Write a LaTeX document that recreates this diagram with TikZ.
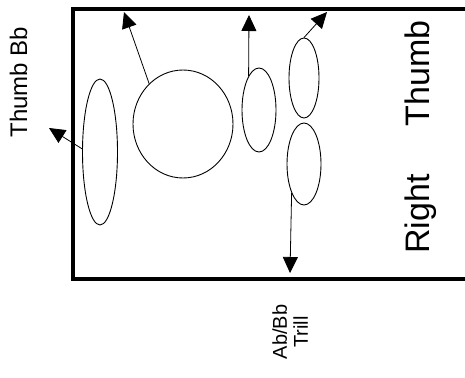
\documentclass[tikz,border=0pt]{standalone}
\usepackage{fontspec}
\setmainfont{Liberation Sans}
\usetikzlibrary{shapes.geometric,arrows.meta}

\tikzset{
  oval/.style={draw, ellipse, inner sep=0pt, line width=0.9pt},
  keyarrow/.style={line width=0.8pt, -{Triangle[length=16pt,width=15pt]}},
  keylabel/.style={rotate=90, anchor=base, inner sep=0pt}
}

\begin{document}
\begin{tikzpicture}[x=1pt,y=-1pt]
\useasboundingbox (0,0) rectangle (465,377);

%Shape: Rectangle (open on the right)
\draw [line width=3.5pt] (480,9) -- (73,9) -- (73,279) -- (480,279) ;

%Shape: Ellipse
\node [oval, minimum width=35pt, minimum height=146pt] (lowBb) at (100,152) {};
%Shape: Circle
\node [oval, minimum width=100pt, minimum height=108pt] (bigkey) at (183,124) {};
%Shape: Ellipse
\node [oval, minimum width=34pt, minimum height=84pt] (midkey) at (259,110) {};
%Shape: Ellipse
\node [oval, minimum width=30pt, minimum height=80pt] (upkey) at (304,78) {};
%Shape: Ellipse
\node [oval, minimum width=34pt, minimum height=82pt] (trillkey) at (304,164) {};

% arrow ends
\coordinate (tipBb) at (49,128);
\coordinate (tipBig) at (124,12);
\coordinate (tipMid) at (249,15);
\coordinate (tipUp) at (327,12);
\coordinate (tipTrill) at (290,273);

%Straight Lines
\draw [keyarrow] (lowBb.170) -- (tipBb) ;
\draw [keyarrow] (bigkey.130) -- (tipBig) ;
\draw [keyarrow] (midkey.107) -- (tipMid) ;
\draw [keyarrow] (upkey.north) -- (tipUp) ;
\draw [keyarrow] (trillkey.247) -- (tipTrill) ;

% Text Node
\node [keylabel, font=\fontsize{24}{24}\selectfont] (thumbBb) at (27,82) {Thumb Bb};
% Text Node
\node [keylabel, font=\fontsize{34}{34}\selectfont] (rthumb) at (429,137) {Right\hspace{48pt}Thumb};
% Text Node
\node [rotate=90, align=center, inner sep=0pt, font=\fontsize{20}{21}\selectfont] (trill) at (290,332) {Ab/Bb\\Trill};

\end{tikzpicture}
\end{document}
